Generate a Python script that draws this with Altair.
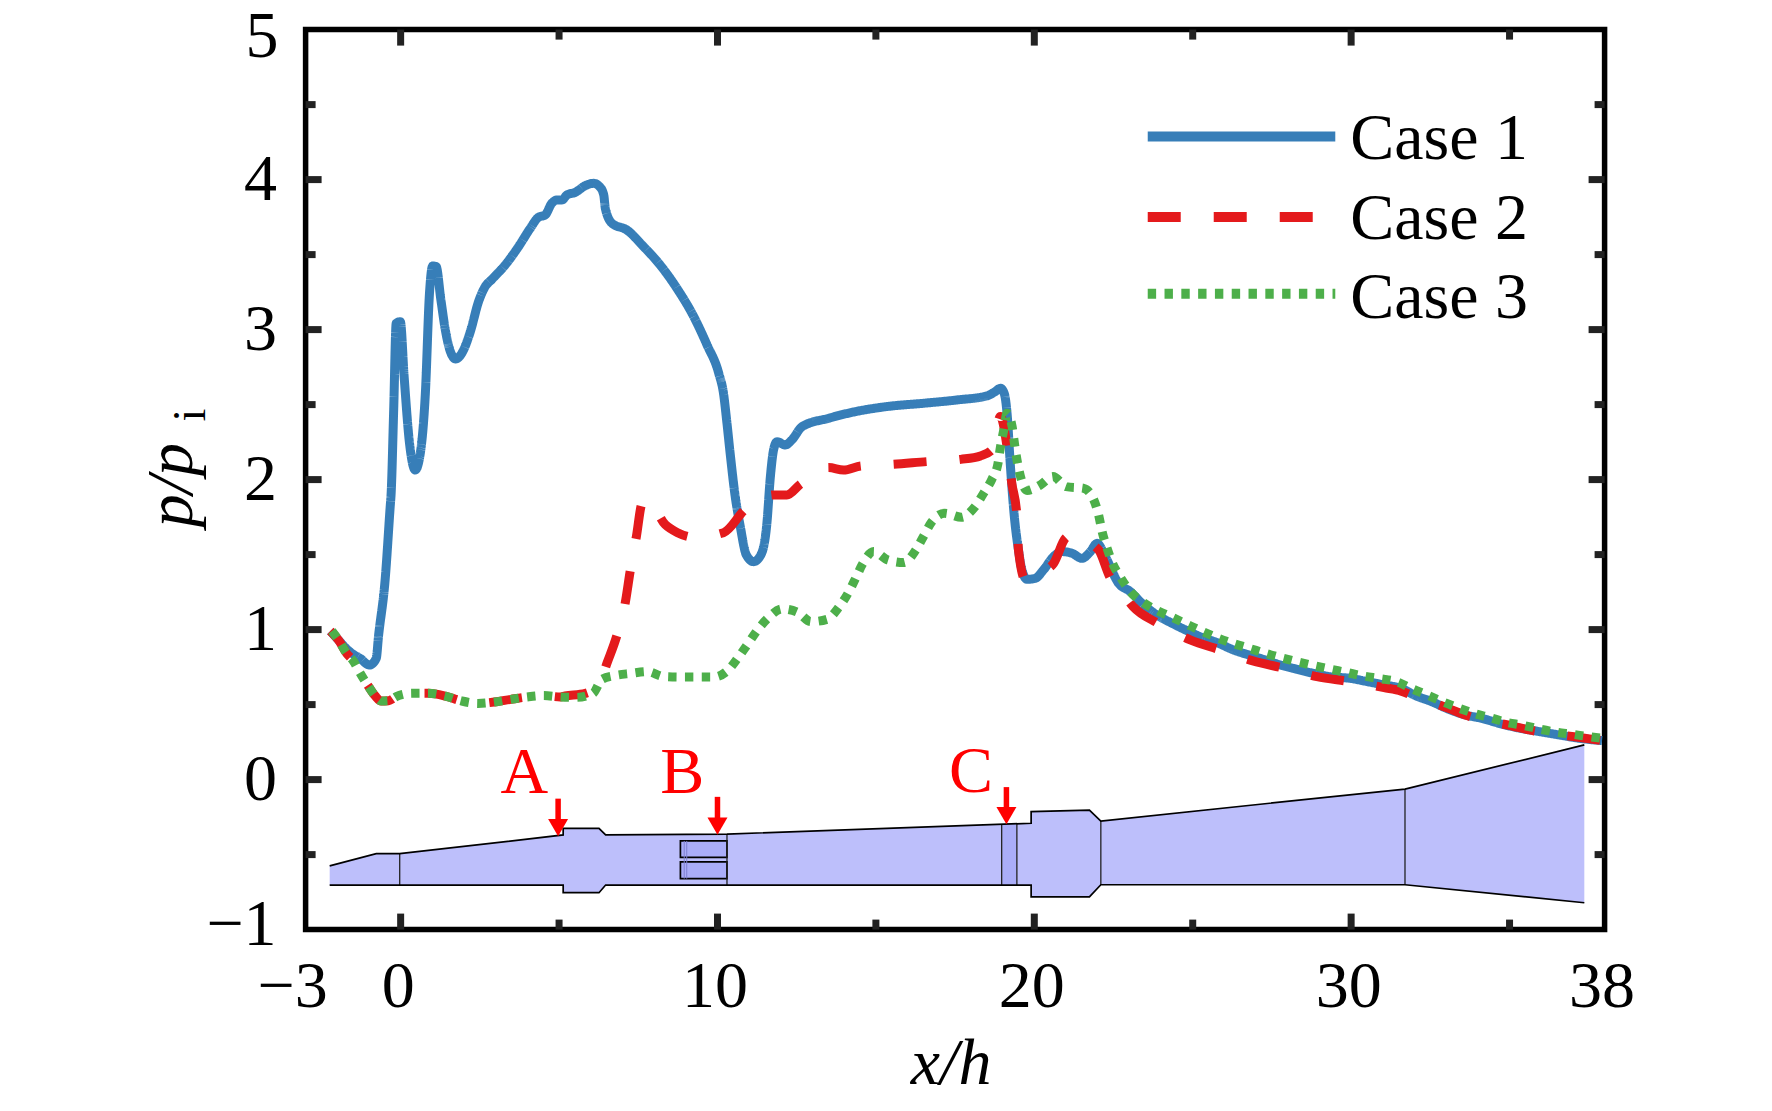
import altair as alt
import pandas as pd

FONT = "Liberation Serif"
W, H = 1299, 900

case1_x = [-2.22,-1.96,-1.70,-1.54,-1.28,-0.98,-0.77,-0.70,-0.49,-0.33,-0.30,-0.22,-0.14,-0.01,0.11,0.28,0.46,0.62,0.78,0.91,1.01,1.12,1.27,1.41,1.57,1.74,1.93,2.2,2.46,2.67,2.88,3.3,3.72,4.09,4.35,4.56,4.77,4.93,5.09,5.25,5.51,5.83,6.09,6.28,6.41,6.46,6.67,7.14,7.67,8.19,8.72,9.25,9.67,10.04,10.19,10.3,10.4,10.56,10.72,10.91,11.14,11.37,11.56,11.67,11.77,11.88,12.14,12.35,12.67,13.51,14.35,15.35,16.51,17.56,18.5,18.77,18.93,19.05,19.14,19.24,19.37,19.5,19.61,19.77,20.03,20.29,20.61,20.87,21.19,21.5,21.77,21.98,22.24,22.66,23.03,23.4,23.87,24.35,24.82,25.29,25.77,26.29,26.77,27.29,27.77,28.29,28.82,29.34,29.98,30.51,31.04,31.58,32.06,32.54,33.01,33.6,34.13,34.67,35.2,35.94,36.58,37.22,37.92]
case1_y = [0.99,0.93,0.87,0.842,0.808,0.764,0.808,0.953,1.331,1.82,1.909,2.464,3.042,3.053,2.687,2.242,2.064,2.175,2.575,3.242,3.424,3.42,3.198,2.998,2.853,2.804,2.842,2.987,3.187,3.287,3.335,3.431,3.553,3.675,3.749,3.764,3.842,3.864,3.864,3.898,3.915,3.96,3.975,3.953,3.898,3.809,3.709,3.664,3.553,3.431,3.275,3.087,2.898,2.709,2.575,2.375,2.175,1.887,1.687,1.498,1.453,1.498,1.709,2.02,2.198,2.253,2.231,2.265,2.353,2.409,2.453,2.487,2.509,2.531,2.558,2.587,2.609,2.575,2.442,2.109,1.753,1.531,1.398,1.335,1.342,1.398,1.487,1.52,1.509,1.475,1.52,1.575,1.487,1.309,1.253,1.175,1.097,1.042,0.993,0.948,0.913,0.864,0.831,0.797,0.764,0.735,0.708,0.686,0.675,0.653,0.631,0.608,0.557,0.52,0.475,0.431,0.408,0.375,0.348,0.32,0.297,0.275,0.26]

case2_x = [-2.22,-1.96,-1.70,-1.49,-1.28,-0.98,-0.80,-0.62,-0.38,-0.14,0.355,0.88,1.41,1.93,2.44,2.96,3.48,3.99,4.51,5.04,5.19,5.83,6.3,6.51,6.83,7.09,7.25,7.44,7.62,7.8,8.35,8.74,9.27,10.19,10.88,11.79,12.19,12.61,13.51,13.98,14.53,15.56,16.61,17.68,18.3,18.66,18.93,19.14,19.29,19.45,19.5,19.72,20.03,20.29,20.61,20.98,21.14,21.5,22.03,22.4,22.7,23.12,23.9,24.92,25.87,26.9,27.89,28.92,29.96,31.04,31.58,32.02,33.07,33.6,34.03,35.09,35.62,36.1,37.17,37.92]
case2_y = [0.99,0.93,0.84,0.79,0.71,0.61,0.557,0.524,0.526,0.553,0.575,0.575,0.557,0.524,0.508,0.517,0.535,0.551,0.56,0.551,0.557,0.575,0.653,0.775,0.964,1.18,1.397,1.62,1.842,1.865,1.70,1.646,1.615,1.646,1.802,1.898,1.898,1.968,2.08,2.064,2.091,2.102,2.12,2.135,2.158,2.198,2.42,2.22,1.975,1.764,1.53,1.331,1.36,1.39,1.442,1.609,1.626,1.6,1.531,1.345,1.27,1.153,1.042,0.931,0.864,0.791,0.742,0.686,0.653,0.613,0.59,0.553,0.475,0.431,0.404,0.357,0.331,0.313,0.282,0.26]

case3_x = [-2.17,-1.96,-1.70,-1.49,-1.28,-0.98,-0.80,-0.62,-0.38,-0.14,0.355,0.88,1.41,1.93,2.44,2.96,3.48,3.99,4.51,5.04,5.54,6.07,6.35,6.75,7.27,7.79,8.3,8.83,9.35,9.88,10.32,10.65,10.95,11.25,11.61,12.04,12.53,12.95,13.46,13.83,14.12,14.36,14.59,14.93,15.38,15.88,16.25,16.51,16.77,17.17,17.7,18.11,18.4,18.66,18.85,18.93,19.03,19.14,19.3,19.37,19.45,19.56,19.77,20.19,20.59,21.01,21.56,21.87,22.03,22.14,22.29,22.47,22.72,23.03,23.43,23.89,24.35,24.82,25.3,25.77,26.27,26.79,27.29,27.79,28.29,28.82,29.33,29.84,30.37,30.91,31.44,31.9,32.4,32.88,33.36,33.87,34.38,34.9,35.42,35.94,36.45,36.98,37.5,37.92]
case3_y = [0.99,0.93,0.84,0.79,0.71,0.61,0.557,0.524,0.526,0.553,0.575,0.575,0.557,0.524,0.508,0.517,0.535,0.551,0.56,0.551,0.548,0.575,0.668,0.693,0.708,0.72,0.687,0.684,0.684,0.684,0.727,0.813,0.902,0.993,1.08,1.138,1.115,1.053,1.069,1.149,1.242,1.342,1.442,1.52,1.464,1.447,1.527,1.624,1.72,1.775,1.749,1.815,1.909,2.002,2.104,2.215,2.324,2.442,2.353,2.246,2.135,2.024,1.927,1.964,2.02,1.953,1.942,1.869,1.764,1.653,1.547,1.442,1.348,1.253,1.182,1.126,1.082,1.035,0.988,0.946,0.908,0.875,0.842,0.813,0.786,0.76,0.737,0.715,0.691,0.673,0.653,0.608,0.564,0.52,0.48,0.442,0.413,0.382,0.362,0.337,0.317,0.302,0.286,0.275]

cases = ["Case 1", "Case 2", "Case 3"]
case_colors = ["#377eb8", "#e41a1c", "#4daf4a"]
case_dashes = [[1, 0], [33, 33], [8.4, 8.4]]

legend_x = [23.58, 23.58, 23.58]
legend_x2 = [29.5, 29.5, 29.5]
legend_y = [4.288, 3.751, 3.239]
legend_text_x = [29.97, 29.97, 29.97]
legend_text_y = [4.136, 3.607, 3.077]

nozzle_x = [-2.24,-0.77,-0.03,5.13,5.13,6.26,6.47,10.3,19.9,19.9,21.74,22.1,31.7,37.36]
nozzle_top = [-0.575,-0.494,-0.494,-0.369,-0.325,-0.325,-0.369,-0.363,-0.291,-0.214,-0.203,-0.276,-0.063,0.231]
nozzle_bot = [-0.703,-0.703,-0.703,-0.703,-0.754,-0.754,-0.703,-0.703,-0.703,-0.782,-0.782,-0.701,-0.701,-0.821]

station_x = [-0.03,10.3,18.97,19.45,22.1,31.7]
station_top = [-0.494,-0.363,-0.297,-0.293,-0.276,-0.063]
station_bot = [-0.703,-0.703,-0.703,-0.703,-0.701,-0.701]

band_x = [8.83,8.83,18.97]
band_x2 = [10.3,10.3,19.45]
band_y = [-0.409,-0.549,-0.297]
band_y2 = [-0.518,-0.660,-0.703]
band_stroke = [1.7,1.7,0]

slot_x = [8.95,9.03]
slot_top = [-0.409,-0.409]
slot_bot = [-0.66,-0.66]

labels = ["A","B","C"]
label_x = [3.9,8.89,18.0]
label_y = [-0.09,-0.09,-0.085]
arrow_x = [4.97,10.0,19.12]
arrow_start = [-0.127,-0.115,-0.05]
arrow_neck = [-0.27,-0.26,-0.19]
arrow_head = [-0.32,-0.31,-0.24]

x_major = [0,10,20,30]
x_minor = [5,15,25,35]
x_labelled = [0,10,20,30,38]
y_major = [0,1,2,3,4]
y_minor = [-0.5,0.5,1.5,2.5,3.5,4.5]

x_scale = alt.Scale(domain=[-3,38], nice=False, zero=False)
y_scale = alt.Scale(domain=[-1,5], nice=False, zero=False)
x_axis = alt.Axis(values=x_labelled, format="d", grid=False, domain=False, ticks=False,
                  labelFont=FONT, labelFontSize=66, labelColor="black", labelPadding=25, labelOffset=-3,
                  labelOverlap=False, labelFlush=False, labelBound=False,
                  titleFont=FONT, titleFontSize=66, titleFontStyle="italic",
                  titleFontWeight="normal", titleColor="black", titlePadding=12, titleX=645)
y_axis = alt.Axis(values=y_major, format="d", grid=False, domain=False, ticks=False,
                  labelFont=FONT, labelFontSize=66, labelColor="black", labelPadding=29,
                  labelOverlap=False, labelFlush=False, labelBound=False,
                  titleFont=FONT, titleFontSize=66, titleFontStyle="italic",
                  titleFontWeight="normal", titleColor="black",
                  titleX=-114.6, titleY=455, titleAlign="center", titleBaseline="alphabetic")
X = alt.X("x:Q", scale=x_scale, axis=x_axis, title="x/h")
Y = alt.Y("y:Q", scale=y_scale, axis=y_axis, title="p/p")
case_color = alt.Color("case:N", scale=alt.Scale(domain=cases, range=case_colors), legend=None)
case_dash = alt.StrokeDash("case:N", scale=alt.Scale(domain=cases, range=case_dashes), legend=None)

rows = []
for name, xs, ys in zip(cases, [case1_x, case2_x, case3_x], [case1_y, case2_y, case3_y]):
    for i, (a, b) in enumerate(zip(xs, ys)):
        rows.append({"case": name, "x": a, "y": b, "i": i})
curves = pd.DataFrame(rows)

lines = alt.Chart(curves).mark_line(strokeWidth=9, strokeJoin="round", interpolate="monotone").encode(
    x=X, y=Y, color=case_color, strokeDash=case_dash, order="i:Q",
)

key = pd.DataFrame({"case": cases, "x": legend_x, "x2": legend_x2, "y": legend_y,
                    "tx": legend_text_x, "ty": legend_text_y})
key_lines = alt.Chart(key).mark_rule(strokeWidth=10).encode(
    x=X, x2="x2:Q", y=Y, color=case_color, strokeDash=case_dash)
key_text = alt.Chart(key).mark_text(font=FONT, fontSize=66, color="black", align="left", baseline="alphabetic").encode(
    x=alt.X("tx:Q", scale=x_scale, axis=x_axis, title="x/h"),
    y=alt.Y("ty:Q", scale=y_scale, axis=y_axis, title="p/p"), text="case:N")

nozzle = pd.DataFrame({"x": nozzle_x, "y": nozzle_top, "y2": nozzle_bot, "i": list(range(len(nozzle_x)))})
body = alt.Chart(nozzle).mark_area(color="#bdbffb", opacity=1).encode(x=X, y=Y, y2="y2:Q")
top_edge = alt.Chart(nozzle).mark_line(color="black", strokeWidth=1.7).encode(x=X, y=Y, order="i:Q")
bot_edge = alt.Chart(nozzle).mark_line(color="black", strokeWidth=1.7).encode(
    x=X, y=alt.Y("y2:Q", scale=y_scale, axis=y_axis, title="p/p"), order="i:Q")

bands = pd.DataFrame({"x": band_x, "x2": band_x2, "y": band_y, "y2": band_y2, "w": band_stroke})
band = alt.Chart(bands).mark_rect(color="#aaadf8", stroke="black").encode(
    x=X, x2="x2:Q", y=Y, y2="y2:Q",
    strokeWidth=alt.StrokeWidth("w:Q", scale=None))

stations = pd.DataFrame({"x": station_x, "y": station_top, "y2": station_bot})
station = alt.Chart(stations).mark_rule(color="#222222", strokeWidth=1.3).encode(x=X, y=Y, y2="y2:Q")
slots = pd.DataFrame({"x": slot_x, "y": slot_top, "y2": slot_bot})
slot = alt.Chart(slots).mark_rule(color="#7d80d0", strokeWidth=1).encode(x=X, y=Y, y2="y2:Q")

arrows = pd.DataFrame({"x": arrow_x, "y": arrow_start, "y2": arrow_neck, "h": arrow_head})
shaft = alt.Chart(arrows).mark_rule(color="#ff0000", strokeWidth=5.5).encode(x=X, y=Y, y2="y2:Q")
head = alt.Chart(arrows).mark_point(shape="triangle-down", filled=True, size=400, color="#ff0000", opacity=1, strokeWidth=0).encode(
    x=X, y=alt.Y("h:Q", scale=y_scale, axis=y_axis, title="p/p"))

letters = pd.DataFrame({"x": label_x, "y": label_y, "t": labels})
letter = alt.Chart(letters).mark_text(font=FONT, fontSize=66, color="#ff0000", align="center", baseline="alphabetic").encode(x=X, y=Y, text="t:N")

# Inward ticks on all four sides
TICK = "#222222"
def vticks(vals, length):
    d = pd.DataFrame({"x": vals})
    bottom = alt.Chart(d).mark_rule(color=TICK, strokeWidth=7).encode(x=X, y=alt.value(H), y2=alt.value(H - length))
    top = alt.Chart(d).mark_rule(color=TICK, strokeWidth=7).encode(x=X, y=alt.value(0), y2=alt.value(length))
    return [bottom, top]
def hticks(vals, length):
    d = pd.DataFrame({"y": vals})
    left = alt.Chart(d).mark_rule(color=TICK, strokeWidth=7).encode(y=Y, x=alt.value(0), x2=alt.value(length))
    right = alt.Chart(d).mark_rule(color=TICK, strokeWidth=7).encode(y=Y, x=alt.value(W), x2=alt.value(W - length))
    return [left, right]
ticks = vticks(x_major, 16) + vticks(x_minor, 10) + hticks(y_major, 16) + hticks(y_minor, 10)

# Edge tick labels that sit off their tick in the reference
def edge_label(x, y, t, dx, dy, align):
    d = pd.DataFrame({"x": [x], "y": [y], "t": [t]})
    return alt.Chart(d).mark_text(font=FONT, fontSize=66, color="black", align=align, baseline="alphabetic", dx=dx, dy=dy).encode(x=X, y=Y, text="t:N")

edge = [edge_label(-3, -1, "\u22123", -13, 77, "center"),
        edge_label(-3, 5, "5", -27, 27, "right"),
        edge_label(-3, -1, "\u22121", -29, 15, "right")]

sub = pd.DataFrame({"x": [-6.17], "y": [2.43], "t": ["i"]})
subscript = alt.Chart(sub).mark_text(font=FONT, fontSize=46, color="black", angle=270, align="center", baseline="alphabetic").encode(x=X, y=Y, text="t:N")

chart = alt.layer(
    body, band, slot, station, top_edge, bot_edge, shaft, head, letter, lines, key_lines, key_text, *ticks, *edge, subscript
).properties(
    width=W, height=H,
    padding={"left": 297.6, "top": 21.6, "right": 100, "bottom": 175},
    autosize=alt.AutoSizeParams(type="none"),
    background="white",
).configure_view(stroke="black", strokeWidth=5.5)

chart.save("out.html", embed_options={"renderer": "svg", "actions": False})
